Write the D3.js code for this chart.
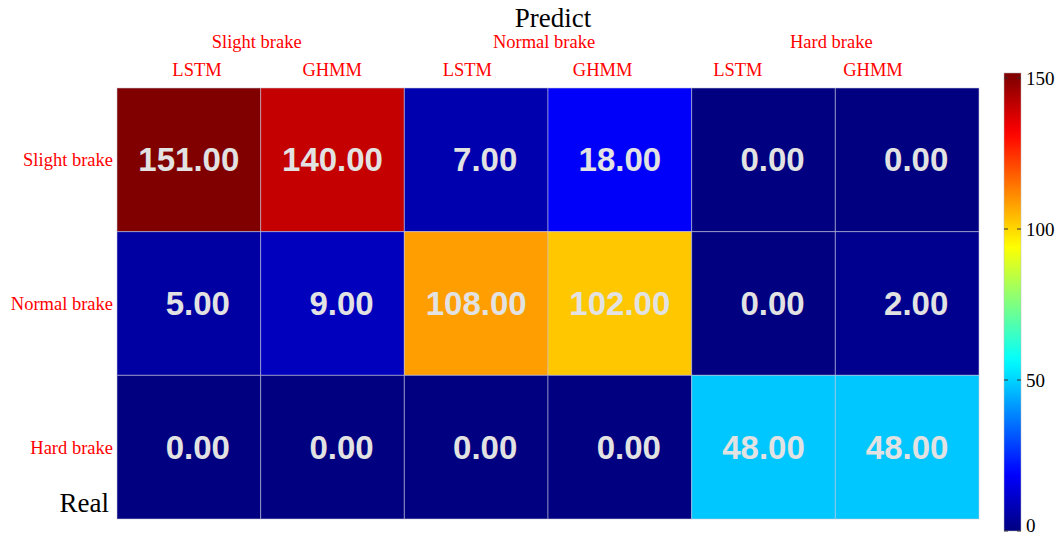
<!DOCTYPE html>
<meta charset="utf-8">
<style>
  body { margin: 0; background: #fff; }
  text { font-family: "Liberation Serif", "Times New Roman", serif; }
</style>
<script src="https://d3js.org/d3.v7.min.js"></script>
<body>
<div id="chart"></div>
<script>

var realClasses = ["Slight brake", "Normal brake", "Hard brake"];
var predClasses = ["Slight brake", "Normal brake", "Hard brake"];
var models = ["LSTM", "GHMM"];
// rows = real class, columns = predicted class x model
var values = [
  [151, 140, 7, 18, 0, 0],
  [5, 9, 108, 102, 0, 2],
  [0, 0, 0, 0, 48, 48]
];
var colorTicks = [0, 50, 100, 150];

var width = 1060,
    height = 536;

var svg = d3.select("#chart").append("svg")
    .attr("width", width)
    .attr("height", height);

var columns = [];
predClasses.forEach(function(p) {
  models.forEach(function(m) { columns.push(p + "|" + m); });
});

var x = d3.scaleBand().domain(columns).range([117, 979]);
var y = d3.scaleBand().domain(realClasses).range([88, 519]);

// jet colormap
var vmax = 150;
var jet = d3.scaleLinear()
    .domain([0, 0.125, 0.375, 0.625, 0.875, 1].map(function(t) { return t * vmax; }))
    .range(["#000080", "#0000ff", "#00ffff", "#ffff00", "#ff0000", "#800000"])
    .clamp(true);

var cells = [];
values.forEach(function(row, i) {
  row.forEach(function(v, j) {
    cells.push({ real: realClasses[i], col: columns[j], value: v });
  });
});

var g = svg.append("g");

g.selectAll("rect.cell")
  .data(cells)
  .enter().append("rect")
    .attr("class", "cell")
    .attr("x", function(d) { return x(d.col); })
    .attr("y", function(d) { return y(d.real); })
    .attr("width", x.bandwidth())
    .attr("height", y.bandwidth())
    .attr("fill", function(d) { return jet(d.value); })
    .attr("stroke", "rgba(200,200,220,0.55)")
    .attr("stroke-width", 1);

g.selectAll("text.val")
  .data(cells)
  .enter().append("text")
    .attr("class", "val")
    .attr("x", function(d) { return x(d.col) + x.bandwidth() / 2 + (d.value < 10 ? 9 : 0); })
    .attr("y", function(d) { return y(d.real) + y.bandwidth() / 2; })
    .attr("dy", "0.35em")
    .attr("text-anchor", "middle")
    .style("font-family", "'Liberation Sans', Arial, sans-serif")
    .style("font-weight", "bold")
    .style("font-size", "33px")
    .attr("fill", "#e2e2e2")
    .text(function(d) { return d.value.toFixed(2); });

// title
svg.append("text")
    .attr("x", 553).attr("y", 27)
    .attr("text-anchor", "middle")
    .style("font-size", "27px")
    .attr("fill", "#000")
    .text("Predict");

// group labels on top
svg.selectAll("text.group")
  .data(predClasses)
  .enter().append("text")
    .attr("class", "group")
    .attr("x", function(d) { return x(d + "|" + models[1]) - 4; })
    .attr("y", 48)
    .attr("text-anchor", "middle")
    .style("font-size", "18.5px")
    .attr("fill", "#ff0000")
    .text(function(d) { return d; });

// model labels
var xm = d3.scalePoint().domain(columns).range([197, 873]);
svg.selectAll("text.model")
  .data(columns)
  .enter().append("text")
    .attr("class", "model")
    .attr("x", function(d) { return xm(d); })
    .attr("y", 76)
    .attr("text-anchor", "middle")
    .style("font-size", "18.5px")
    .attr("fill", "#ff0000")
    .text(function(d) { return d.split("|")[1]; });

// row labels
svg.selectAll("text.row")
  .data(realClasses)
  .enter().append("text")
    .attr("class", "row")
    .attr("x", 113)
    .attr("y", function(d) { return y(d) + y.bandwidth() / 2; })
    .attr("dy", "0.35em")
    .attr("text-anchor", "end")
    .style("font-size", "18.5px")
    .attr("fill", "#ff0000")
    .text(function(d) { return d; });

svg.append("text")
    .attr("x", 109).attr("y", 512)
    .attr("text-anchor", "end")
    .style("font-size", "27px")
    .attr("fill", "#000")
    .text("Real");

// colorbar
var cbX = 1004, cbW = 17;
var cy = d3.scaleLinear().domain([0, 150]).range([531, 78]);

var defs = svg.append("defs");
var grad = defs.append("linearGradient")
    .attr("id", "jetgrad")
    .attr("x1", 0).attr("y1", 1).attr("x2", 0).attr("y2", 0);
d3.range(0, 1.0001, 0.02).forEach(function(t) {
  grad.append("stop")
      .attr("offset", t)
      .attr("stop-color", jet(151 * t));
});

svg.append("rect")
    .attr("x", cbX)
    .attr("y", cy(151) - 2)
    .attr("width", cbW)
    .attr("height", cy(0) - cy(151) + 2)
    .attr("fill", "url(#jetgrad)")
    .attr("stroke", "#bbb")
    .attr("stroke-width", 0.5);

var ct = svg.selectAll("g.ctick")
  .data(colorTicks)
  .enter().append("g")
    .attr("class", "ctick")
    .attr("transform", function(d) { return "translate(0," + cy(d) + ")"; });

ct.append("line")
    .attr("x1", cbX).attr("x2", cbX + 4)
    .attr("stroke", "#333").attr("stroke-width", 1);
ct.append("line")
    .attr("x1", cbX + cbW - 4).attr("x2", cbX + cbW)
    .attr("stroke", "#333").attr("stroke-width", 1);
ct.append("text")
    .attr("x", cbX + cbW + 5)
    .attr("dy", function(d) { return d === 0 ? "0.05em" : "0.35em"; })
    .style("font-size", "19px")
    .attr("fill", "#000")
    .text(function(d) { return d; });

</script>
</body>
